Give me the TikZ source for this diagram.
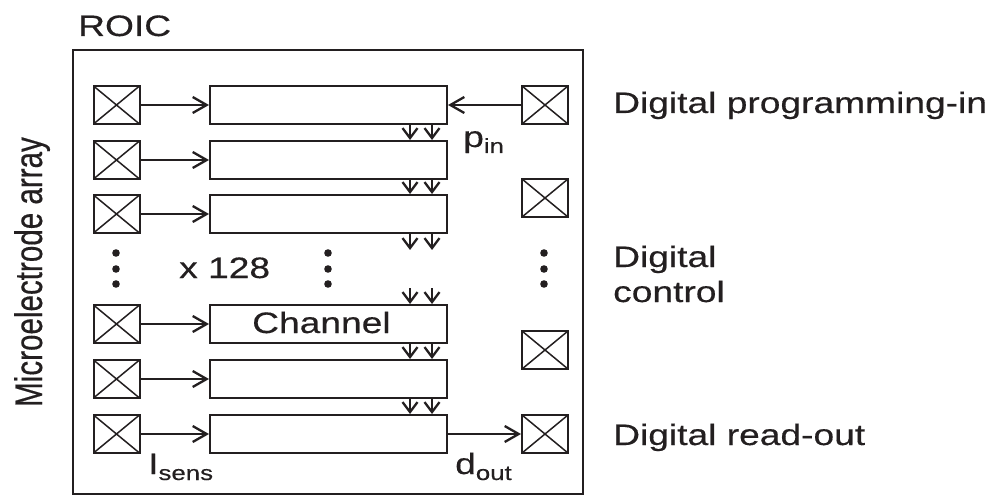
\documentclass[tikz,border=0pt]{standalone}
\usepackage{fontspec}
\setmainfont{Liberation Sans}[FakeStretch=1.26,FakeBold=0.4]
\newfontfamily\plainsans{Liberation Sans}[FakeBold=0.4]
\usetikzlibrary{arrows.meta}
\definecolor{ink}{RGB}{35,31,32}
\newcommand{\subtxt}[1]{\raisebox{-6pt}{\fontsize{20.5}{21}\selectfont #1}}
\begin{document}
\begin{tikzpicture}[x=1pt,y=-1pt,
  pad/.style={draw=ink, line width=2pt, minimum width=46pt, minimum height=38pt, inner sep=0pt,
    path picture={\draw[ink, line width=1.5pt] (path picture bounding box.north west) -- (path picture bounding box.south east)
      (path picture bounding box.south west) -- (path picture bounding box.north east);}},
  chan/.style={draw=ink, line width=2pt, minimum width=237pt, minimum height=38pt, inner sep=0pt},
  arr/.style={draw=ink, line width=1.7pt, -{Straight Barb[length=14pt,width=16pt,line width=2.3pt]}},
  darr/.style={draw=ink, line width=1.7pt, -{Straight Barb[length=10pt,width=15pt,line width=2.3pt]}},
  lab/.style={text=ink, font=\fontsize{29.5}{31}\selectfont, inner sep=0pt, anchor=base west},
  dot/.style={fill=ink, draw=none},
]
\useasboundingbox (0,0) rectangle (988,497);
% outer box
\draw[ink, line width=2pt] (73,50) rectangle (583,494);
\node[lab] (roic) at (78,36) {ROIC};
% left pads
\node[pad] (L1) at (116.5,105) {};
\node[pad] (L2) at (116.5,160) {};
\node[pad] (L3) at (116.5,214) {};
\node[pad] (L4) at (116.5,324) {};
\node[pad] (L5) at (116.5,379) {};
\node[pad] (L6) at (116.5,434) {};
% channels
\node[chan] (C1) at (328.5,105) {};
\node[chan] (C2) at (328.5,160) {};
\node[chan] (C3) at (328.5,214) {};
\node[chan] (C4) at (328.5,324) {};
\node[chan] (C5) at (328.5,379) {};
\node[chan] (C6) at (328.5,434) {};
\node[lab] (chtxt) at (252,333) {Channel};
% right pads
\node[pad] (R1) at (545,105) {};
\node[pad] (R2) at (545,198) {};
\node[pad] (R3) at (545,350) {};
\node[pad] (R4) at (545,434) {};
% pad to channel arrows
\foreach \i in {1,...,6} {\draw[arr] (L\i.east) -- (C\i.west);}
\draw[arr] (R1.west) -- (C1.east);
\draw[arr] (C6.east) -- (R4.west);
% down arrows between channels
\foreach \a/\b in {1/2,2/3,4/5,5/6} {
  \draw[darr] ([xshift=81.5pt]C\a.south) -- ([xshift=81.5pt]C\b.north);
  \draw[darr] ([xshift=103.5pt]C\a.south) -- ([xshift=103.5pt]C\b.north);
}
\coordinate (g1) at (410,250);
\coordinate (g2) at (432,250);
\coordinate (h1) at (410,288);
\coordinate (h2) at (432,288);
\draw[darr] ([xshift=81.5pt]C3.south) -- (g1);
\draw[darr] ([xshift=103.5pt]C3.south) -- (g2);
\draw[darr] (h1) -- ([xshift=81.5pt]C4.north);
\draw[darr] (h2) -- ([xshift=103.5pt]C4.north);
% dots
\foreach \x in {116,328,544} {
  \foreach \y in {253,269,284} {\fill[dot] (\x,\y) circle (3.8pt);}
}
\node[lab] (x128) at (179,278) {x 128};
% labels
\node[lab] (pin) at (463,147) {p\subtxt{in}};
\node[lab] (isens) at (148,474) {I\subtxt{sens}};
\node[lab] (dout) at (455,474) {d\subtxt{out}};
\node[lab] (dpi) at (613,113) {Digital programming-in};
\node[lab] (dc1) at (613,267) {Digital};
\node[lab] (dc2) at (613,302) {control};
\node[lab] (dro) at (613,445) {Digital read-out};
\node[text=ink, inner sep=0pt, rotate=90, anchor=base] (mea) at (42,272)
  {\scalebox{1}[1.3]{\plainsans\fontsize{29.6}{30}\selectfont Microelectrode array}};
\end{tikzpicture}
\end{document}
